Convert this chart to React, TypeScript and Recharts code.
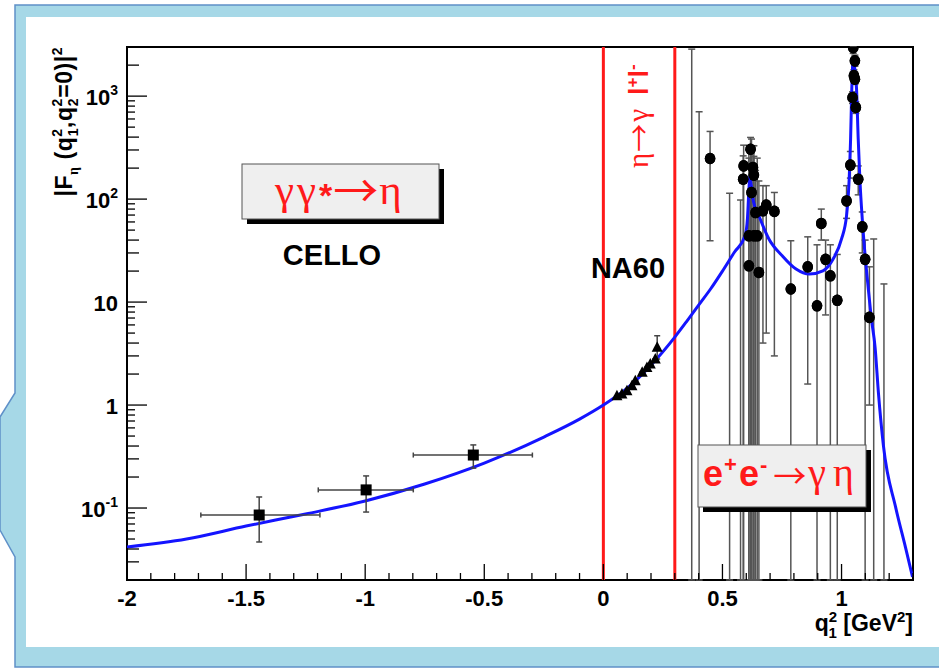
import React from "react";
import {
  ComposedChart,
  Line,
  Scatter,
  XAxis,
  YAxis,
  ErrorBar,
  ReferenceLine,
  ReferenceArea,
} from "recharts";

// ---------------- data ----------------
// Theory curve |F_eta(q1^2, 0)|^2
const curveQ2 = [-2.0, -1.75, -1.5, -1.25, -1.0, -0.75, -0.5, -0.25, -0.1, 0, 0.1, 0.2, 0.3, 0.35, 0.4, 0.45, 0.5, 0.55, 0.595, 0.605, 0.61, 0.615, 0.62, 0.63, 0.653, 0.695, 0.752, 0.809, 0.865, 0.922, 0.964, 1.0, 1.021, 1.032, 1.038, 1.043, 1.049, 1.055, 1.063, 1.07, 1.077, 1.087, 1.098, 1.113, 1.124, 1.141, 1.155, 1.176, 1.227, 1.269, 1.298];
const curveF2 = [0.0418, 0.05, 0.0668, 0.0875, 0.117, 0.171, 0.273, 0.489, 0.73, 1.0, 1.46, 2.44, 4.57, 6.5, 9.35, 13.4, 20, 30.5, 44, 65, 110, 165, 140, 95, 69, 41, 28, 20.9, 18.7, 20.1, 26, 41, 69, 156, 383, 1169, 2300, 1900, 1169, 383, 156, 64, 30, 13, 7.3, 3.6, 1.3, 0.4, 0.102, 0.041, 0.0214];

// CELLO (spacelike)
const celloQ2 = [-1.445, -0.996, -0.546];
const celloF2 = [0.0855, 0.15, 0.327];
const celloQ2Lo = [-1.69, -1.197, -0.798];
const celloQ2Hi = [-1.19, -0.798, -0.298];
const celloF2Lo = [0.0468, 0.0914, 0.244];
const celloF2Hi = [0.128, 0.205, 0.41];

// NA60 (eta -> gamma l+ l-)
const na60Q2 = [0.057, 0.078, 0.099, 0.12, 0.134, 0.163, 0.183, 0.197, 0.218, 0.226];
const na60F2 = [1.23, 1.28, 1.38, 1.54, 1.72, 2.08, 2.32, 2.5, 2.8, 3.64];
const na60F2Lo = [1.23, 1.28, 1.38, 1.54, 1.72, 2.08, 2.32, 2.5, 2.8, 2.8];
const na60F2Hi = [1.23, 1.28, 1.38, 1.54, 1.72, 2.08, 2.32, 2.5, 2.8, 4.71];

// e+e- -> gamma eta (timelike); values below the axis range have no visible marker
const sndQ2 = [0.371, 0.402, 0.448, 0.53, 0.576, 0.587, 0.589, 0.611, 0.611, 0.618, 0.622, 0.628, 0.632, 0.632, 0.639, 0.646, 0.653, 0.67, 0.684, 0.718, 0.787, 0.858, 0.897, 0.915, 0.933, 0.953, 0.982, 1.021, 1.037, 1.046, 1.049, 1.052, 1.056, 1.056, 1.06, 1.07, 1.087, 1.099, 1.117, 1.135, 1.178];
const sndF2 = [0.005, 0.005, 248, 0.005, 0.005, 156, 210, 44, 22.5, 305, 116, 203, 171, 44, 74, 44, 19.4, 77, 87.5, 76, 13.4, 22, 9.2, 58, 26, 18, 10.4, 96, 214, 970, 2950, 1580, 2200, 1460, 776, 156, 53.8, 26, 7.1, 0.005, 0.005];
const sndF2Lo = [0.001, 0.001, 39.4, 0.001, 0.001, 0.001, 0.001, 0.001, 0.001, 0.001, 0.001, 0.001, 0.001, 0.001, 0.001, 0.001, 0.001, 4, 5, 3, 0.001, 1.6, 0.001, 40, 7.5, 0.001, 0.001, 65, 160, 850, 2600, 1400, 1950, 1300, 680, 110, 30, 0.001, 1.0, 0.001, 0.001];
const sndF2Hi = [2860, 705, 454, 114, 98, 263, 334, 250, 300, 397, 383, 330, 260, 330, 190, 250, 150, 135, 135, 116, 39.4, 43, 36, 80, 40, 36, 29, 135, 290, 1100, 3300, 1800, 2500, 1650, 880, 210, 75, 40, 22, 41, 15];

// axes
const xDomain = [-2, 1.3];
const yDomain = [0.02, 3000];
const xMajorTicks = [-2, -1.5, -1, -0.5, 0, 0.5, 1];
const xMinorStep = 0.1;
const yMajorTicks = [0.1, 1, 10, 100, 1000];
const yMajorLabels = [["10", "-1"], ["1", ""], ["10", ""], ["10", "2"], ["10", "3"]];
const yMinorMantissas = [2, 3, 4, 5, 6, 7, 8, 9];
const etaThreshold = 0.3;

// ---------------- tables ----------------
const yMin = yDomain[0];
const yMax = yDomain[1];
const curveData = curveQ2.map((x, i) => ({ x, y: curveF2[i] }));
const celloData = celloQ2.map((x, i) => ({
  x,
  y: celloF2[i],
  ex: [x - celloQ2Lo[i], celloQ2Hi[i] - x],
  ey: [celloF2[i] - celloF2Lo[i], celloF2Hi[i] - celloF2[i]],
}));
const na60Data = na60Q2.map((x, i) => ({
  x,
  y: na60F2[i],
  ey: [na60F2[i] - na60F2Lo[i], na60F2Hi[i] - na60F2[i]],
}));
// clamp to the visible frame (ROOT clips the bars at the frame)
const sndData = sndQ2.map((x, i) => {
  const y = Math.max(sndF2[i], yMin);
  const lo = Math.max(sndF2Lo[i], yMin);
  const hi = Math.min(sndF2Hi[i], yMax);
  return { x, y, ey: [y - lo, hi - y], hidden: sndF2[i] < yMin };
});

const xTicks: number[] = [];
for (let i = Math.round(xDomain[0] / xMinorStep); i <= Math.round(xDomain[1] / xMinorStep); i++) {
  xTicks.push(Math.round(i) / 10);
}
const yTicks: number[] = [];
[0.01, 0.1, 1, 10, 100, 1000].forEach((d) => {
  if (d >= 0.1) yTicks.push(d);
  yMinorMantissas.forEach((m) => {
    const v = +(m * d).toPrecision(3);
    if (v > yMin - 1e-9 && v < yMax - 1e-9) yTicks.push(v);
  });
});

const SANS = "'Liberation Sans', Arial, Helvetica, sans-serif";
const SERIF = "'Liberation Serif', 'Times New Roman', serif";
const ARROW = "'Noto Sans CJK SC', 'Liberation Serif', serif";
const RED = "#ff1a1a";

// ---------------- tick renderers ----------------
const XTick = (props: any) => {
  const { x, y, payload } = props;
  const v = payload.value;
  const major = xMajorTicks.some((m) => Math.abs(m - v) < 1e-6);
  return (
    <g>
      <line x1={x} x2={x} y1={y} y2={y - (major ? 16 : 7)} stroke="#000" strokeWidth={1.3} />
      {major && (
        <text x={x} y={y + 26} textAnchor="middle" fontFamily={SANS} fontWeight="bold" fontSize={22} fill="#000">
          {String(v)}
        </text>
      )}
    </g>
  );
};

const YTick = (props: any) => {
  const { x, y, payload } = props;
  const v = payload.value;
  const idx = yMajorTicks.findIndex((m) => Math.abs(m - v) / m < 1e-6);
  const mant = v / Math.pow(10, Math.floor(Math.log10(v) + 1e-9));
  const len = idx >= 0 ? 20 : mant < 4.5 ? 12 : 8;
  return (
    <g>
      <line x1={x} x2={x + len} y1={y} y2={y} stroke="#000" strokeWidth={1.3} />
      {idx >= 0 && (
        <text x={x - 9} y={y + 9} textAnchor="end" fontFamily={SANS} fontWeight="bold" fontSize={22} fill="#000">
          {yMajorLabels[idx][0]}
          {yMajorLabels[idx][1] && (
            <tspan dy={-10} fontSize={14}>
              {yMajorLabels[idx][1]}
            </tspan>
          )}
        </text>
      )}
    </g>
  );
};

// ---------------- marker shapes ----------------
const SquareShape = (p: any) => (
  <rect x={p.cx - 5.5} y={p.cy - 5.5} width={11} height={11} fill="#000" />
);
const TriangleShape = (p: any) => (
  <path d={`M${p.cx},${p.cy - 6} L${p.cx + 5.5},${p.cy + 4.5} L${p.cx - 5.5},${p.cy + 4.5} Z`} fill="#000" />
);
const CircleShape = (p: any) =>
  p.payload && p.payload.hidden ? <g /> : <ellipse cx={p.cx} cy={p.cy} rx={5.3} ry={5.8} fill="#000" />;

// ---------------- decorations ----------------
const Background = () => (
  <svg width={939} height={670} style={{ position: "absolute", left: 0, top: 0 }}>
    <rect x={0} y={0} width={939} height={670} fill="#ffffff" />
    <path
      d="M15,5 L945,5 L945,667 L15,667 L15,557 L0,530 L0,417 L15,393 Z"
      fill="#a6d8e7"
      stroke="#5f90c8"
      strokeWidth={1.5}
    />
    <rect x={26} y={17} width={920} height={630} fill="#ffffff" />
  </svg>
);

const Overlay = () => (
  <svg width={939} height={670} style={{ position: "absolute", left: 0, top: 0, pointerEvents: "none" }}>
    {/* y-axis title */}
    <text
      transform="translate(72,122) rotate(-90)"
      textAnchor="middle"
      fontFamily={SANS}
      fontWeight="bold"
      fontSize={23}
      fill="#000"
      textLength={149}
      lengthAdjust="spacing"
    >
      |F
      <tspan dy={6} fontSize={14} fontFamily={SERIF}>η</tspan>
      <tspan dy={-6}> (q</tspan>
      <tspan dy={-10} fontSize={14}>2</tspan>
      <tspan dx={-8} dy={16} fontSize={14}>1</tspan>
      <tspan dy={-6}>,q</tspan>
      <tspan dy={-10} fontSize={14}>2</tspan>
      <tspan dx={-8} dy={16} fontSize={14}>2</tspan>
      <tspan dy={-6}>=0)|</tspan>
      <tspan dy={-10} fontSize={14}>2</tspan>
    </text>

    {/* x-axis title */}
    <text x={913} y={631} textAnchor="end" fontFamily={SANS} fontWeight="bold" fontSize={23} fill="#000">
      q
      <tspan dy={-9} fontSize={15}>2</tspan>
      <tspan dx={-8.5} dy={16} fontSize={15}>1</tspan>
      <tspan dy={-7}> [GeV</tspan>
      <tspan dy={-9} fontSize={15}>2</tspan>
      <tspan dy={9}>]</tspan>
    </text>

    {/* gamma gamma* -> eta box */}
    <rect x={247} y={169} width={197} height={55} fill="#000" />
    <rect x={242} y={164} width={197} height={55} fill="#efefef" stroke="#555" strokeWidth={1} />
    <text x={275} y={204} fill={RED} fontFamily={SERIF} fontSize={43}>
      γ<tspan dx={3}>γ</tspan>
      <tspan dx={3} dy={3} fontFamily={SANS} fontWeight="bold" fontSize={34}>*</tspan>
      <tspan dx={1} dy={1} fontFamily={ARROW} fontSize={45}>→</tspan>
      <tspan dx={1} dy={-4}>η</tspan>
    </text>
    <text x={332} y={265} textAnchor="middle" fontFamily={SANS} fontWeight="bold" fontSize={29} fill="#000">
      CELLO
    </text>

    {/* NA60 */}
    <text x={628} y={278} textAnchor="middle" fontFamily={SANS} fontWeight="bold" fontSize={29} fill="#000">
      NA60
    </text>

    {/* eta -> gamma l+ l- (rotated, reading upward) */}
    <text transform="translate(648,168) rotate(-90)" fill={RED} fontFamily={SERIF} fontSize={29}>
      η
      <tspan dx={1} dy={2} fontFamily={ARROW} fontSize={28}>→</tspan>
      <tspan dx={2} dy={-2}>γ</tspan>
      <tspan dx={14} fontFamily={SANS} fontWeight="bold" fontSize={27}>l</tspan>
      <tspan fontFamily={SANS} fontWeight="bold" fontSize={17} dy={-10}>+</tspan>
      <tspan fontFamily={SANS} fontWeight="bold" fontSize={27} dy={10}>l</tspan>
      <tspan fontFamily={SANS} fontWeight="bold" fontSize={17} dy={-10}>-</tspan>
    </text>

    {/* e+e- -> gamma eta box */}
    <rect x={703} y={450} width={168} height={62} fill="#000" />
    <rect x={698} y={445} width={168} height={62} fill="#efefef" stroke="#555" strokeWidth={1} />
    <text x={703} y={486} fill={RED} fontFamily={SANS} fontWeight="bold" fontSize={36}>
      e<tspan dx={1} fontSize={22} dy={-14}>+</tspan>
      <tspan dx={2} dy={14}>e</tspan>
      <tspan dx={1} fontSize={22} dy={-14}>-</tspan>
      <tspan dx={6} dy={16} fontFamily={ARROW} fontWeight="normal" fontSize={33}>→</tspan>
      <tspan dx={2} dy={-2} fontFamily={SERIF} fontWeight="normal" fontSize={40}>γ</tspan>
      <tspan dx={7} fontFamily={SERIF} fontWeight="normal" fontSize={40}>η</tspan>
    </text>
  </svg>
);

export default function App() {
  return (
    <div style={{ position: "absolute", left: 0, top: 0, width: 939, height: 670, overflow: "hidden" }}>
      <Background />
      <div style={{ position: "absolute", left: 0, top: 0 }}>
        <ComposedChart width={939} height={670} margin={{ top: 47, right: 26, bottom: 50, left: 67 }}>
          <XAxis
            dataKey="x"
            type="number"
            domain={xDomain}
            allowDataOverflow
            ticks={xTicks}
            interval={0}
            tick={<XTick />}
            tickLine={false}
            tickSize={0}
            tickMargin={0}
            axisLine={false}
            height={40}
          />
          <YAxis
            type="number"
            scale="log"
            domain={yDomain}
            allowDataOverflow
            ticks={yTicks}
            interval={0}
            tick={<YTick />}
            tickLine={false}
            tickSize={0}
            tickMargin={0}
            axisLine={false}
            width={60}
          />
          <ReferenceArea x1={xDomain[0]} x2={xDomain[1]} y1={yMin} y2={yMax} fill="none" stroke="#000" strokeWidth={2} />
          <ReferenceLine x={0} stroke="#ff1a1a" strokeWidth={3} />
          <ReferenceLine x={etaThreshold} stroke="#ff1a1a" strokeWidth={3} />
          <Scatter data={sndData} dataKey="y" shape={<CircleShape />} isAnimationActive={false}>
            <ErrorBar dataKey="ey" direction="y" width={3.5} stroke="#555" strokeWidth={1.5} />
          </Scatter>
          <Line
            data={curveData}
            dataKey="y"
            type="monotone"
            stroke="#1414ff"
            strokeWidth={3}
            dot={false}
            isAnimationActive={false}
          />
          <Scatter data={celloData} dataKey="y" shape={<SquareShape />} isAnimationActive={false}>
            <ErrorBar dataKey="ex" direction="x" width={2.5} stroke="#444" strokeWidth={1.5} />
            <ErrorBar dataKey="ey" direction="y" width={3} stroke="#444" strokeWidth={1.5} />
          </Scatter>
          <Scatter data={na60Data} dataKey="y" shape={<TriangleShape />} isAnimationActive={false}>
            <ErrorBar dataKey="ey" direction="y" width={3} stroke="#444" strokeWidth={1.5} />
          </Scatter>
          <Scatter data={sndData} dataKey="y" shape={<CircleShape />} isAnimationActive={false} />
        </ComposedChart>
      </div>
      <Overlay />
    </div>
  );
}
